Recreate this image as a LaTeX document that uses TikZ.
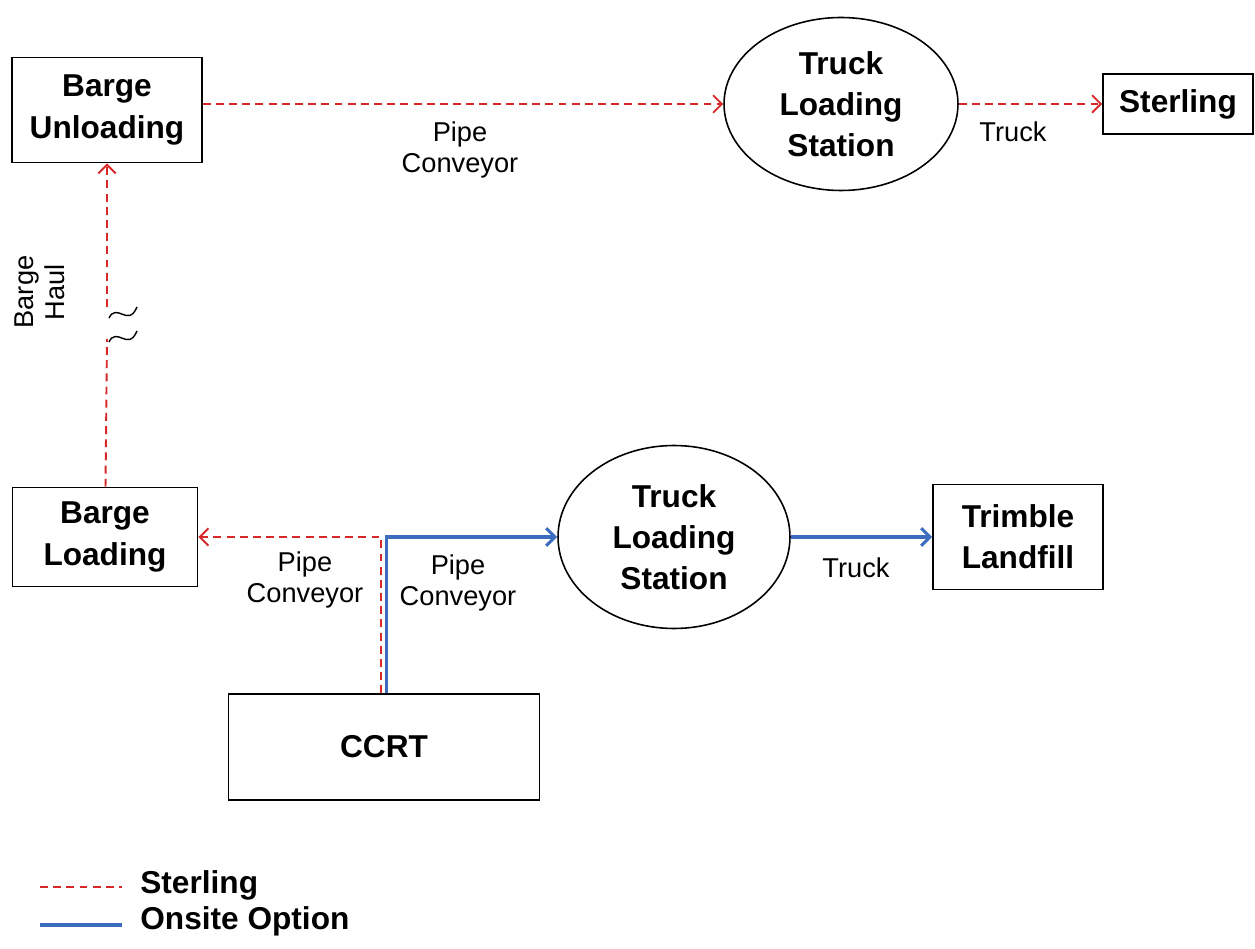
\documentclass[tikz,border=0pt]{standalone}
\usepackage{fontspec}
\setmainfont{Liberation Sans}
\usetikzlibrary{arrows.meta,positioning,shapes.geometric}
\definecolor{sred}{RGB}{214,40,40}
\definecolor{oblue}{RGB}{60,108,190}

\begin{document}
\begin{tikzpicture}[x=0.02cm,y=-0.02cm,
	sterl/.style={sred,dash pattern=on 4.5pt off 3pt,line width=1.1pt},
	onsite/.style={oblue,line width=1.8pt},
	tip/.style={-{Straight Barb[length=5pt,width=10pt]}}]
	\useasboundingbox (0,0) rectangle (1255,949);
	\begin{scope}[every node/.style={draw,line width=0.9pt,align=center,inner sep=0pt,font=\fontsize{18}{23.5}\selectfont\bfseries}]
		\node[minimum width=3.8cm,minimum height=2.1cm] (BU) at (107,110) {Barge\\Unloading};
		\node[ellipse,minimum width=4.68cm,minimum height=3.46cm] (TLS1) at (841,104) {Truck\\Loading\\Station};
		\node[minimum width=3.0cm,minimum height=1.2cm] (Sterl) at (1178,104) {Sterling};
		\node[minimum width=3.7cm,minimum height=1.98cm] (BL) at (105,537) {Barge\\Loading};
		\node[ellipse,minimum width=4.64cm,minimum height=3.66cm] (TLS2) at (674,537) {Truck\\Loading\\Station};
		\node[minimum width=3.4cm,minimum height=2.1cm] (Trim) at (1018,537) {Trimble\\Landfill};
		\node[minimum width=6.22cm,minimum height=2.12cm] (CCRT) at (384,747) {CCRT};
	\end{scope}

	\begin{scope}[every node/.style={align=center,inner sep=0pt,font=\fontsize{15.5}{17.5}\selectfont}]
		\node (pc1) at (460,150) {Pipe\\Conveyor};
		\node (truck1) at (1013,132) {Truck};
		\node[rotate=90] (haul) at (40,292) {Barge\\Haul};
		\node (pc2) at (305,580) {Pipe\\Conveyor};
		\node (pc3) at (458,583) {Pipe\\Conveyor};
		\node (truck2) at (856,568) {Truck};
	\end{scope}

	% break in the barge haul
	\coordinate (brkA) at (107,307);
	\coordinate (brkB) at (107,339);
	\draw[line width=0.8pt] (109,318) .. controls (117,302) and (128,328) .. (137,307);
	\draw[line width=0.8pt] (109,342) .. controls (117,326) and (128,352) .. (137,331);

	\begin{scope}
	\draw[sterl,tip] (BU.east |- TLS1) -- (TLS1);
	\draw[sterl,tip] (TLS1) -- (Sterl);
	\draw[sterl] (BL) -- (brkB);
	\draw[sterl,tip] (brkA) -- (BU);
	\draw[sterl,tip] ([xshift=-1.5pt]CCRT.north) |- (BL);
	\draw[onsite,tip] ([xshift=1.5pt]CCRT.north) |- (TLS2);
	\draw[onsite,tip] (TLS2) -- (Trim);
	\end{scope}

	% legend
	\coordinate (legA) at (40,887);
	\coordinate (legB) at (40,925);
	\node[right,inner sep=0pt,font=\fontsize{18}{20}\selectfont\bfseries] (legS) at (140,885) {Sterling};
	\node[right,inner sep=0pt,font=\fontsize{18}{20}\selectfont\bfseries] (legO) at (140,921) {Onsite Option};
	\draw[sterl] (legA) -- ([xshift=-10pt]legS.west |- legA);
	\draw[onsite] (legB) -- ([xshift=-10pt]legO.west |- legB);
\end{tikzpicture}
\end{document}
